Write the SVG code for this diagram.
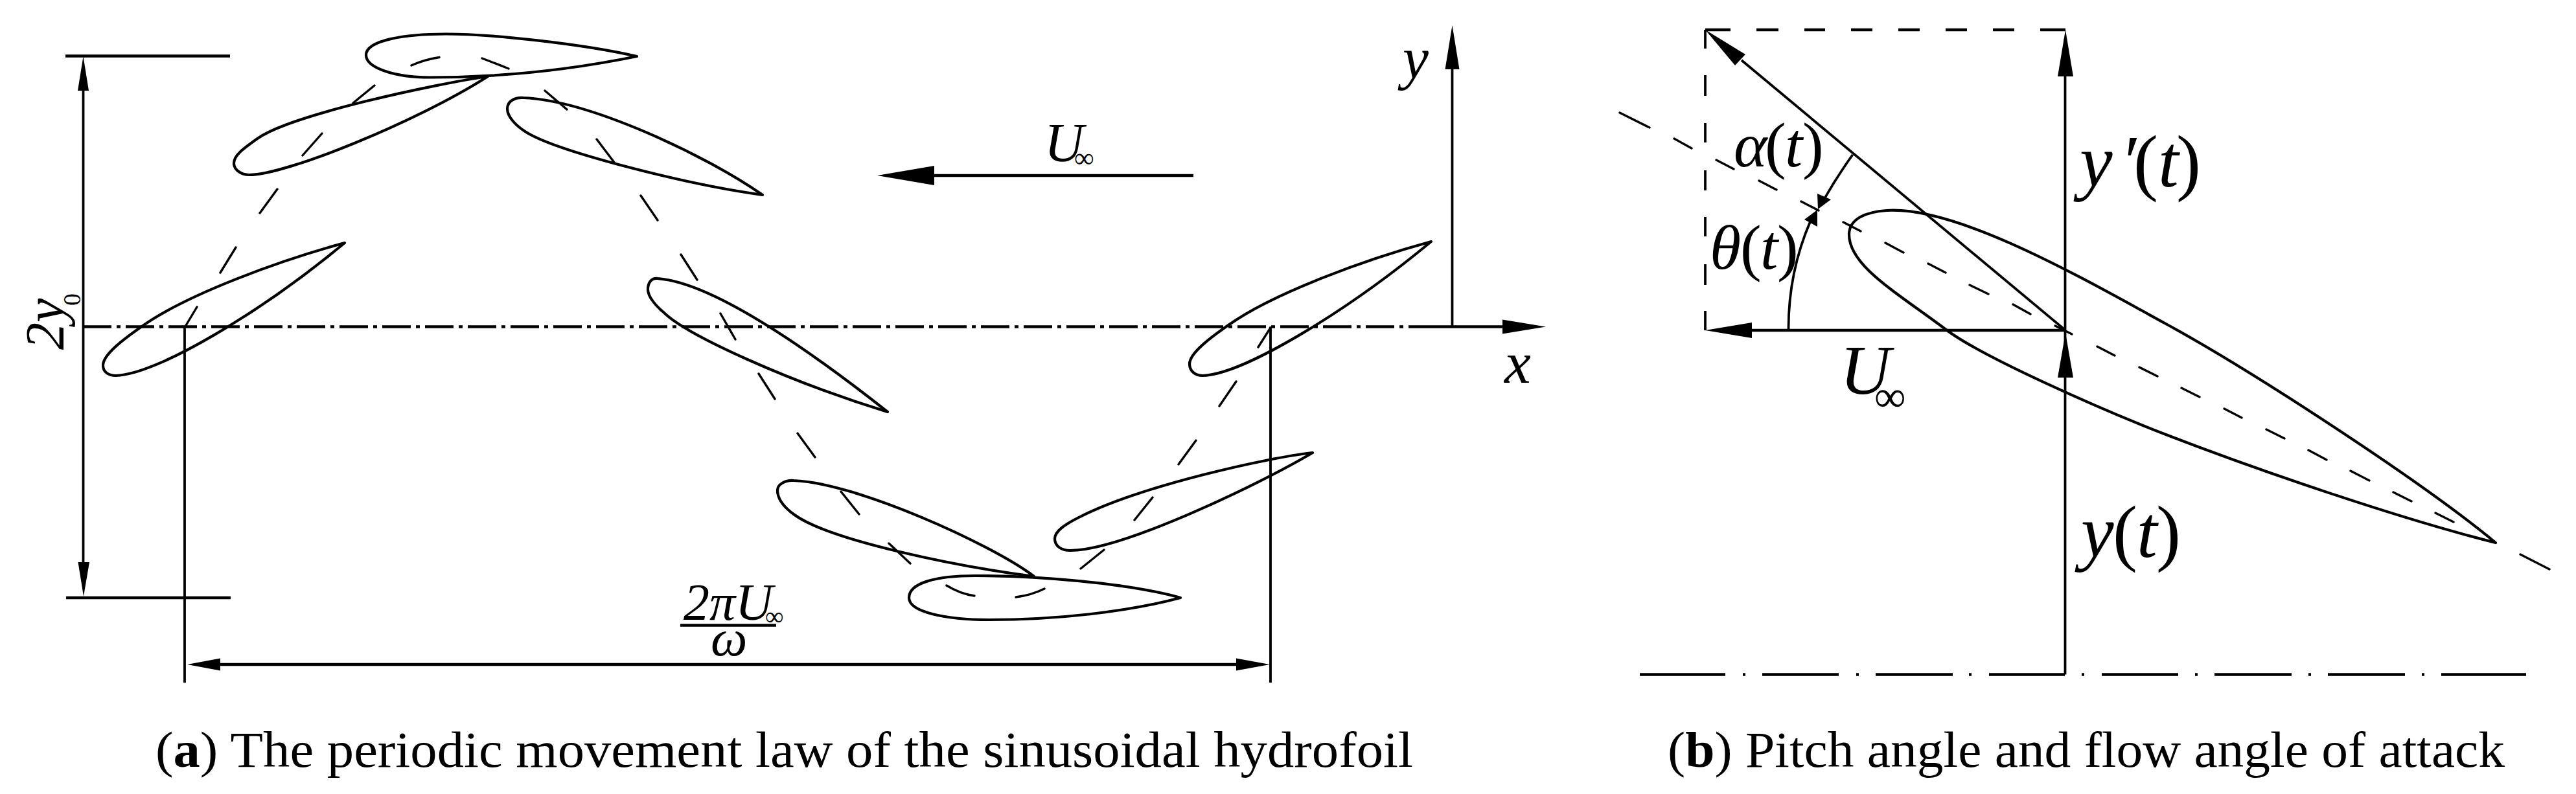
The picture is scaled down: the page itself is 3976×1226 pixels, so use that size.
<svg xmlns="http://www.w3.org/2000/svg" width="3976" height="1226" viewBox="0 0 3976 1226">
<style>
.bg{fill:#fff}
.foil{fill:none;stroke:#000;stroke-width:4.2;stroke-linejoin:round}
.ln{fill:none;stroke:#000;stroke-width:3.8}
.th{fill:none;stroke:#000;stroke-width:4.6}
.dsh{fill:none;stroke:#000;stroke-width:3.4;stroke-linecap:round}
.cl{fill:none;stroke:#000;stroke-width:4.4}
.hd{fill:#000;stroke:none}
text{font-family:"Liberation Serif","Times New Roman",serif;fill:#000}
.it{font-style:italic}
.cap{font-size:78px}
</style>
<rect class="bg" width="3976" height="1226"/>
<g id="connectors">
<path id="centerline-a" class="cl" stroke-dasharray="44 8 6 8" d="M128 504.500H2187"/>
<path class="cl" d="M2187 504.500H2320"/>
<polygon class="hd" points="2386,504.500 2319,493.500 2319,515.500"/>
<path class="ln" d="M2241.500 504.500V100"/>
<polygon class="hd" points="2241.500,39 2230.500,107 2252.500,107"/>
<path class="th" d="M1842 271H1440"/>
<polygon class="hd" points="1354,271 1442,256 1442,286"/>
<path class="th" d="M101 86.500H355M102 923H356"/>
<path class="ln" d="M128.500 130V880"/>
<polygon class="hd" points="128.500,87 120,140 137,140"/>
<polygon class="hd" points="129,921 120.500,868 138,868"/>
<path class="ln" d="M285 504.500V1054M1961 504.500V1054"/>
<path class="th" d="M335 1026H1915"/>
<polygon class="hd" points="289,1026 340,1016.500 340,1035.500"/>
<polygon class="hd" points="1960,1026 1908,1016.500 1908,1035.500"/>
<path class="dsh" d="M635 101Q655 92 678 88.500M744 90Q765 98 785 106M578 132L545 159M497 206L467 240M428 292L401 329M364 382L340 421M304 474L286 504M841 140L875 169M921 215L949 252M989 302L1015 340M1051 393L1076 432M1112 484L1135 524M1171 577L1196 616M1231 669L1258 706M1298 759L1326 794M1372 839L1405 870M1461 904Q1482 917 1504 920M1568 922Q1592 919 1612 909M1668 878L1704 849M1751 803L1779 768M1819 717L1846 680M1882 627L1908 589M1942 536L1961 506"/>
<path class="th" d="M2632 46H2671M2711 46H2745M2785 46H2817M2857 46H2890M2930 46H2963M3003 46H3036M3076 46H3109M3149 46H3188"/>
<path class="ln" d="M2632 46V75M2632 116V148M2632 190V220M2632 263V294M2632 335V365M2632 408V440M2632 480V510"/>
<path class="ln" d="M3188 510L2688 93"/>
<polygon class="hd" points="2632,46 2694,84 2678,101"/>
<path class="ln" d="M3187.500 60V1041.500"/>
<polygon class="hd" points="3188,46 3176,118 3200,118"/>
<polygon class="hd" points="3188,514 3176,583 3200,583"/>
<path class="th" d="M3188 510H2700"/>
<polygon class="hd" points="2632,510 2704,498 2704,522"/>
<path class="ln" d="M2859.500 239Q2835 273 2813 312"/>
<polygon class="hd" points="2806,323 2826,308 2805,299"/>
<path class="ln" d="M2760.500 510Q2760 420 2795 340"/>
<polygon class="hd" points="2805,324 2785,339 2805,350"/>
<path class="dsh" d="M2500 174L2546 197M2584 214L2611 229M2649 247L2676 261M2715 279L2742 293M2780 311L2807 325M2845 343L2872 357M2910 375L2938 390M2976 407L3003 421M3040 440L3069 454M3107 470L3134 485M3172 503L3198 516M3237 535L3264 549M3302 567L3330 581M3367 599L3395 613M3433 631L3460 645M3498 663L3526 677M3563 695L3591 710M3628 727L3657 742M3694 760L3722 774M3759 792L3787 806M3890 856L3935 879"/>
<path id="centerline-b" class="cl" d="M2531 1041.500H2663M2690 1041.500H2694M2720 1041.500H2838M2865 1041.500H2869M2895 1041.500H3014M3039 1041.500H3043M3070 1041.500H3187M3213 1041.500H3217M3244 1041.500H3362M3388 1041.500H3392M3418 1041.500H3537M3563 1041.500H3567M3593 1041.500H3712M3738 1041.500H3742M3768 1041.500H3899"/>
</g>
<g id="foil-1"><path class="foil" d="M983 87C900 68 760 52.500 688 52.500C625 52.500 565 62 565 85C565 105 610 119.500 663 119.500C770 119.500 880 108 983 87Z"/></g>
<g id="foil-2"><path class="foil" d="M753 118C670 130 450 177 398 213.500C376 229 361 240 361 252C361 262 372 270 385 270C440 270 640 190 753 118Z"/></g>
<g id="foil-3"><path class="foil" d="M1177 301C1090 240 910 155 808 151C795 150 783 156 783 168C783 180 796 194 812 204C860 234 1060 285 1177 301Z"/></g>
<g id="foil-4"><path class="foil" d="M532 375C433 402 289 454 219 504C193 522 159 547 159 564C159 575 168 580 179 580C243 578 403 482 532 375Z"/></g>
<g id="foil-5"><path class="foil" d="M1370 636C1280 565 1110 437 1015 430C1005 429 1000 437 1000 447C1000 458 1012 472 1024 482C1060 518 1220 590 1370 636Z"/></g>
<g id="foil-6"><path class="foil" d="M1596 890C1530 840 1320 745 1225 742C1212 741 1200 748 1200 757C1200 770 1210 783 1225 794C1280 835 1480 875 1596 890Z"/></g>
<g id="foil-7"><path class="foil" d="M1822 923C1740 900 1600 889 1505 889C1445 889 1403 900 1403 923C1403 945 1460 957 1526 957C1630 957 1740 945 1822 923Z"/></g>
<g id="foil-8"><path class="foil" d="M2026 699C1960 706 1760 750 1665 799C1645 809 1628 820 1628 832C1628 843 1638 850 1652 850C1730 850 1940 750 2026 699Z"/></g>
<g id="foil-9"><path class="foil" d="M2209 373C2110 400 1966 452 1896 502C1870 520 1836 545 1836 562C1836 573 1845 580 1856 580C1920 578 2080 480 2209 373Z"/></g>
<g id="foil-large"><path class="foil" d="M3852 838C3740 745 3480 575 3343 500C3210 427 3020 318 2912 325C2880 327 2854 338 2854 362C2854 410 2925 450 3005 510C3060 551 3240 631 3343 671C3480 724 3700 800 3852 838Z"/></g>
<g id="labels-a">
<text transform="translate(98 540) rotate(-90)" font-size="84"><tspan class="it">2y</tspan><tspan x="68" y="26" font-size="38">0</tspan></text>
<text font-size="84" y="249"><tspan class="it" x="1612">U</tspan><tspan x="1658" y="258" font-size="43">∞</tspan></text>
<text class="it" x="2165" y="121" font-size="90">y</text>
<text class="it" x="2322" y="591" font-size="92">x</text>
<text font-size="80" y="957"><tspan class="it" x="1055">2πU</tspan><tspan x="1181" y="965" font-size="40">∞</tspan></text>
<path class="th" d="M1050 965.500H1198"/>
<text class="it" x="1097" y="1012" font-size="80">ω</text>
</g>
<g id="labels-b">
<text font-size="98" y="257"><tspan class="it" x="2676">α</tspan><tspan x="2724">(</tspan><tspan class="it" x="2755">t</tspan><tspan x="2782">)</tspan></text>
<text font-size="98" y="415"><tspan class="it" x="2639">θ</tspan><tspan x="2686">(</tspan><tspan class="it" x="2717">t</tspan><tspan x="2743">)</tspan></text>
<text font-size="114" y="288"><tspan class="it" x="3210">y</tspan><tspan class="it" x="3272">′</tspan><tspan x="3293">(</tspan><tspan class="it" x="3331">t</tspan><tspan x="3359">)</tspan></text>
<text font-size="114" y="860"><tspan class="it" x="3212">y</tspan><tspan x="3261">(</tspan><tspan class="it" x="3298">t</tspan><tspan x="3328">)</tspan></text>
<text font-size="108" y="608"><tspan class="it" x="2840">U</tspan><tspan x="2893" y="635" font-size="68">∞</tspan></text>
</g>
<g id="captions">
<text class="cap" x="240" y="1184" textLength="1941" lengthAdjust="spacingAndGlyphs">(<tspan font-weight="bold">a</tspan>) The periodic movement law of the sinusoidal hydrofoil</text>
<text class="cap" x="2574" y="1184" textLength="1292" lengthAdjust="spacingAndGlyphs">(<tspan font-weight="bold">b</tspan>) Pitch angle and flow angle of attack</text>
</g>
</svg>
